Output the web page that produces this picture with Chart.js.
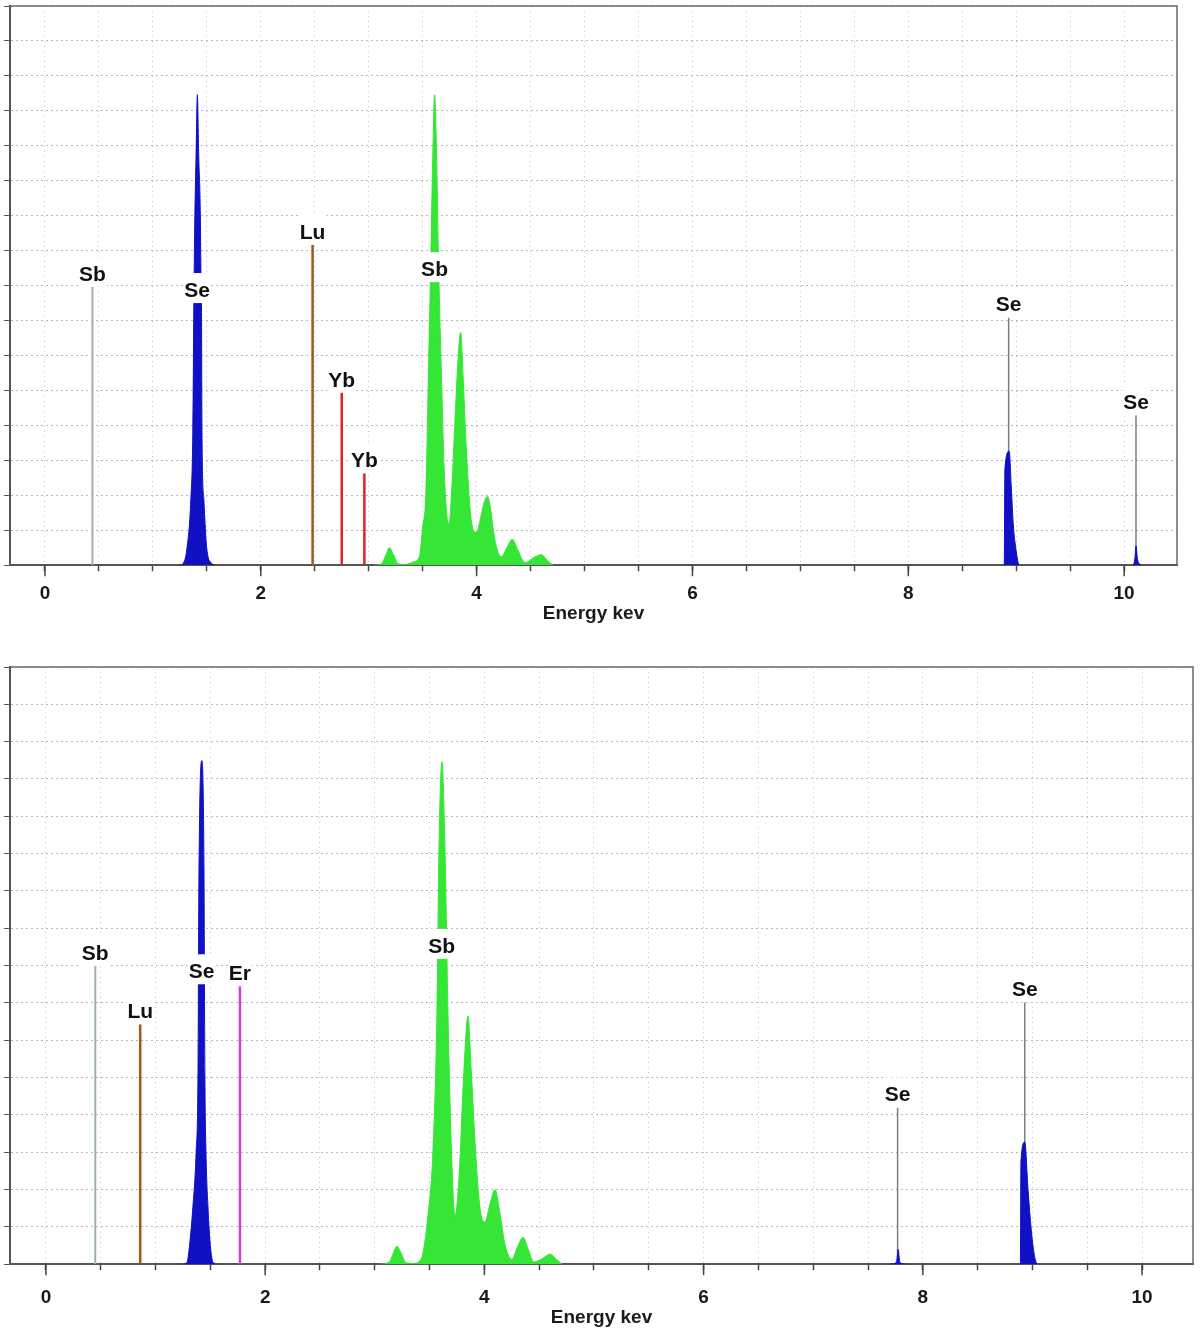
<!DOCTYPE html>
<html>
<head>
<meta charset="utf-8">
<script src="https://cdn.jsdelivr.net/npm/chart.js@4.4.1/dist/chart.umd.min.js"></script>
<style>
    html, body { margin: 0; padding: 0; background: #fff; }
    #wrap { position: relative; width: 1200px; height: 1342px; }
    .box { position: absolute; left: 0; width: 1200px; }
    #topBox { top: 0; height: 640px; }
    #bottomBox { top: 640px; height: 702px; }
</style>
</head>
<body>
<div id="wrap">
    <div class="box" id="topBox"><canvas id="topChart"></canvas></div>
    <div class="box" id="bottomBox"><canvas id="bottomChart"></canvas></div>
</div>
<script>
// ===== 위쪽 스펙트럼 데이터 (keV, 상대 강도) =====
const topGreenKev = [3.05, 3.12, 3.16, 3.19, 3.23, 3.27, 3.33, 3.42, 3.47, 3.50, 3.53, 3.556, 3.574, 3.593, 3.611, 3.63, 3.648, 3.67, 3.70, 3.73, 3.745, 3.77, 3.80, 3.83, 3.852, 3.875, 3.90, 3.94, 3.97, 4.00, 4.04, 4.07, 4.102, 4.13, 4.16, 4.20, 4.23, 4.28, 4.33, 4.38, 4.43, 4.46, 4.52, 4.60, 4.66, 4.71];
const topGreenCounts = [0, 0.05, 0.3, 0.5, 0.3, 0.05, 0.02, 0.1, 0.25, 1.1, 2.1, 5.9, 8.5, 11.6, 13.46, 11.6, 8.5, 5.9, 2.7, 1.3, 1.2, 2.2, 4.2, 6.0, 6.66, 5.4, 3.6, 1.6, 1.0, 0.94, 1.4, 1.8, 1.97, 1.6, 0.9, 0.35, 0.25, 0.5, 0.74, 0.45, 0.12, 0.08, 0.2, 0.3, 0.12, 0];
const topBlueKev = [1.25, 1.28, 1.315, 1.352, 1.37, 1.38, 1.389, 1.40, 1.412, 1.425, 1.44, 1.445, 1.45, 1.455, 1.472, 1.50, 1.546, 1.58,
    8.87, 8.889, 8.895, 8.935, 8.955, 8.972, 9.0, 9.028, 9.04,
    10.08, 10.10, 10.11, 10.125, 10.16];
const topBlueCounts = [0, 0.05, 0.46, 1.9, 3.8, 7.6, 10.0, 11.7, 13.46, 11.7, 10.0, 8.5, 7.6, 3.8, 1.9, 0.46, 0.05, 0,
    0, 0, 2.74, 3.26, 2.2, 1.2, 0.4, 0, 0,
    0, 0.2, 0.55, 0.15, 0];
const topLineKev = [0.44, 1.41, 2.48, 2.75, 2.96, 3.61, 8.93, 10.11];
const topLineCounts = [7.97, 7.5, 9.17, 4.94, 2.63, 8.1, 7.09, 4.29];
const topLineLabels = ['Sb', 'Se', 'Lu', 'Yb', 'Yb', 'Sb', 'Se', 'Se'];

// ===== 아래쪽 스펙트럼 데이터 =====
const bottomGreenKev = [3.05, 3.13, 3.17, 3.20, 3.24, 3.28, 3.34, 3.42, 3.44, 3.485, 3.53, 3.567, 3.586, 3.613, 3.64, 3.668, 3.70, 3.732, 3.77, 3.81, 3.85, 3.88, 3.92, 3.96, 4.005, 4.05, 4.097, 4.14, 4.19, 4.252, 4.30, 4.352, 4.40, 4.45, 4.53, 4.60, 4.66, 4.71];
const bottomGreenCounts = [0, 0.05, 0.3, 0.48, 0.3, 0.05, 0.02, 0.12, 0.3, 1.3, 3.0, 6.7, 11.2, 13.46, 11.2, 6.7, 3.0, 1.29, 2.4, 5.0, 6.65, 5.2, 3.0, 1.5, 1.13, 1.6, 2.0, 1.4, 0.5, 0.13, 0.45, 0.72, 0.4, 0.06, 0.15, 0.27, 0.12, 0];
const bottomBlueKev = [1.25, 1.287, 1.31, 1.341, 1.37, 1.387, 1.396, 1.423, 1.442, 1.45, 1.46, 1.478, 1.50, 1.524, 1.56,
    7.70, 7.76, 7.775, 7.79, 7.85,
    8.87, 8.89, 8.895, 8.93, 8.96, 8.99, 9.02, 9.04];
const bottomBlueCounts = [0, 0.05, 0.5, 1.55, 3.0, 5.1, 10.5, 13.49, 10.5, 5.1, 3.0, 1.55, 0.5, 0.05, 0,
    0, 0.05, 0.4, 0.05, 0,
    0, 0, 2.73, 3.27, 2.0, 0.9, 0.2, 0];
const bottomLineKev = [0.45, 0.86, 1.42, 1.77, 3.61, 7.77, 8.93];
const bottomLineCounts = [7.99, 6.43, 7.5, 7.45, 8.18, 4.2, 7.02];
const bottomLineLabels = ['Sb', 'Lu', 'Se', 'Er', 'Sb', 'Se', 'Se'];

// 원소 선 색상 (스타일)
const lineStyle = {
    Sb: { color: '#9fb29f', width: 2 },
    Se: { color: '#7c7c8c', width: 1.5 },
    Lu: { color: '#9a5a22', width: 2.5 },
    Yb: { color: '#e02424', width: 2.5 },
    Er: { color: '#cc44cc', width: 2.5 }
};
const GREEN = '#36e636';
const BLUE = '#1010c4';

Chart.defaults.font.family = '"Liberation Sans", Arial, sans-serif';

// 두 배열을 {x, y} 점 목록으로 변환
function toPoints(xs, ys) {
    return xs.map((v, i) => ({ x: v, y: ys[i] }));
}

// 바닥(0) 구간은 테두리 선을 숨김
const hideFlat = ctx => (ctx.p0.parsed.y === 0 && ctx.p1.parsed.y === 0 ? 'rgba(0,0,0,0)' : undefined);

// 피크 라벨 그리기 (흰 배경 위에 글자)
const peakLabels = {
    id: 'peakLabels',
    afterDatasetsDraw(chart, args, opts) {
        const { ctx, scales: { x, y } } = chart;
        ctx.save();
        ctx.font = 'bold 21px "Liberation Sans", Arial, sans-serif';
        ctx.textAlign = 'center';
        ctx.textBaseline = 'alphabetic';
        opts.kev.forEach((k, i) => {
            const px = x.getPixelForValue(k);
            const base = y.getPixelForValue(opts.counts[i]) - 6;
            const w = ctx.measureText(opts.labels[i]).width;
            ctx.fillStyle = '#fff';
            ctx.fillRect(px - w / 2 - 1, base - 24, w + 2, 30);
            ctx.fillStyle = '#111';
            ctx.fillText(opts.labels[i], px, base);
        });
        ctx.restore();
    }
};

// 위/오른쪽 테두리와 긴 눈금
const frame = {
    id: 'frame',
    afterDraw(chart) {
        const { ctx, chartArea: a, scales: { x } } = chart;
        ctx.save();
        ctx.strokeStyle = '#6a6a6a';
        ctx.lineWidth = 1.5;
        ctx.beginPath();
        ctx.moveTo(a.left, a.top);
        ctx.lineTo(a.right, a.top);
        ctx.lineTo(a.right, a.bottom);
        ctx.stroke();
        ctx.strokeStyle = '#444';
        x.ticks.forEach(t => {
            if (Math.abs(t.value % 2) < 1e-6) {
                const px = x.getPixelForValue(t.value);
                ctx.beginPath();
                ctx.moveTo(px, a.bottom);
                ctx.lineTo(px, a.bottom + 11);
                ctx.stroke();
            }
        });
        ctx.restore();
    }
};

function makeChart(id, p) {
    const datasets = [];
    // 채움 피크 먼저 (위에 그려짐)
    datasets.push({
        data: toPoints(p.greenKev, p.greenCounts),
        borderColor: GREEN, backgroundColor: GREEN, borderWidth: 1,
        fill: 'origin', cubicInterpolationMode: 'monotone',
        segment: { borderColor: hideFlat }
    });
    datasets.push({
        data: toPoints(p.blueKev, p.blueCounts),
        borderColor: BLUE, backgroundColor: BLUE, borderWidth: 1,
        fill: 'origin', cubicInterpolationMode: 'monotone',
        segment: { borderColor: hideFlat }
    });
    p.lineKev.forEach((k, i) => {
        const st = lineStyle[p.lineLabels[i]];
        datasets.push({
            data: [{ x: k, y: 0 }, { x: k, y: p.lineCounts[i] }],
            borderColor: st.color, borderWidth: st.width, fill: false
        });
    });

    new Chart(document.getElementById(id), {
        type: 'line',
        data: { datasets: datasets },
        plugins: [peakLabels, frame],
        options: {
            responsive: true,
            maintainAspectRatio: false,
            animation: false,
            layout: { padding: p.padding },
            elements: { point: { radius: 0 } },
            plugins: {
                legend: { display: false },
                tooltip: { enabled: false },
                peakLabels: { kev: p.lineKev, counts: p.lineCounts, labels: p.lineLabels }
            },
            scales: {
                x: {
                    type: 'linear', min: p.range[0], max: p.range[1],
                    border: { color: '#555', width: 2, dash: [1, 4] },
                    grid: { color: '#c4c4c4', tickColor: '#444', tickLength: 6, tickWidth: 1.5, tickBorderDash: [] },
                    ticks: {
                        stepSize: 0.5, includeBounds: false, autoSkip: false, maxRotation: 0,
                        padding: p.tickPad, color: '#1a1a1a',
                        font: { size: 19, weight: 'bold' },
                        callback: v => (Math.abs(v % 2) < 1e-6 ? String(Math.round(v)) : '')
                    },
                    title: {
                        display: true, text: 'Energy kev', color: '#1a1a1a',
                        font: { size: 19, weight: 'bold', lineHeight: 1 },
                        padding: { top: p.titlePad, bottom: 0 }
                    }
                },
                y: {
                    min: 0, max: 16,
                    border: { color: '#555', width: 2, dash: [2, 3] },
                    grid: { color: '#b8b8b8', tickColor: '#555', tickLength: 6, tickBorderDash: [] },
                    ticks: { display: false, stepSize: 1 }
                }
            }
        }
    });
}

makeChart('topChart', {
    greenKev: topGreenKev, greenCounts: topGreenCounts,
    blueKev: topBlueKev, blueCounts: topBlueCounts,
    lineKev: topLineKev, lineCounts: topLineCounts, lineLabels: topLineLabels,
    range: [-0.324, 10.49],
    padding: { left: 4, right: 23, top: 6, bottom: 17 },
    tickPad: 11, titlePad: -12
});

makeChart('bottomChart', {
    greenKev: bottomGreenKev, greenCounts: bottomGreenCounts,
    blueKev: bottomBlueKev, blueCounts: bottomBlueCounts,
    lineKev: bottomLineKev, lineCounts: bottomLineCounts, lineLabels: bottomLineLabels,
    range: [-0.328, 10.465],
    padding: { left: 4, right: 7, top: 27, bottom: 15 },
    tickPad: 16, titlePad: -17
});
</script>
</body>
</html>
